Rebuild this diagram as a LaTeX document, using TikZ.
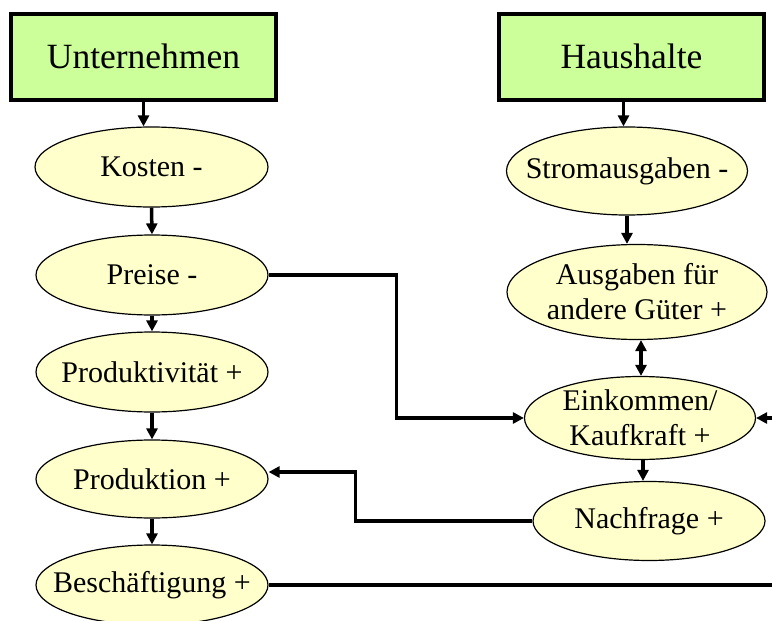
\documentclass[tikz,border=0pt]{standalone}
\usepackage{fontspec}
\setmainfont{Liberation Serif}
\usetikzlibrary{shapes.geometric,arrows.meta}

\definecolor{boxgreen}{HTML}{CCFF99}
\definecolor{ovalyellow}{HTML}{FFFFCC}

\begin{document}
\begin{tikzpicture}
      [x=1pt,y=-1pt,
      %%%%%%%%%%%%%%%%%%%%%%%%%%%%%%
      box/.style={rectangle,draw=black,line width=4pt,fill=boxgreen,
        minimum width=265pt,minimum height=86pt,inner sep=0pt,
        font=\fontsize{35.5}{40}\selectfont},
      oval/.style={ellipse,draw=black,line width=1.2pt,fill=ovalyellow,
        inner xsep=-40pt,inner ysep=-25pt,align=center,
        font=\fontsize{30}{35}\selectfont},
      arr/.style={line width=3.5pt,-{Triangle[length=11pt,width=11pt]}},
      dblarr/.style={line width=3.5pt,{Triangle[length=11pt,width=11pt]}-{Triangle[length=11pt,width=11pt]}},
      line/.style={line width=3.5pt},
      ]%%%%%%%%%%%%%%%%%%%%%%%%%%%%%%
      \clip (0,0) rectangle (772,621);
      \useasboundingbox (0,0) rectangle (772,621);

      % left column
      \node[box] (unt) at (143.5,56.5) {Unternehmen};
      \node[oval,minimum width=233pt,minimum height=80pt] (kosten) at (151.5,167) {Kosten -};
      \node[oval,minimum width=232pt,minimum height=80pt] (preise) at (152,275) {Preise -};
      \node[oval,minimum width=232pt,minimum height=80pt] (produktiv) at (152,372) {Produktivität +};
      \node[oval,minimum width=232pt,minimum height=78pt] (prod) at (152,479) {Produktion +};
      \node[oval,minimum width=232pt,minimum height=80pt] (besch) at (152,585) {Beschäftigung +};

      % right column
      \node[box] (haus) at (631.5,56.5) {Haushalte};
      \node[oval,minimum width=241pt,minimum height=88pt] (strom) at (627,171) {Stromausgaben -};
      \node[oval,minimum width=260pt,minimum height=95pt] (ausgaben) at (637,292) {Ausgaben für\\andere Güter +};
      \node[oval,minimum width=231pt,minimum height=83pt] (eink) at (640,418) {Einkommen/\\Kaufkraft +};
      \node[oval,minimum width=232pt,minimum height=79pt] (nachfrage) at (649,521) {Nachfrage +};

      \coordinate (outeink) at (790,418);
      \coordinate (outbesch) at (790,585);

      \draw[arr] (unt.south) -- (unt.south |- kosten.north);
      \draw[arr] (kosten.south) -- (preise.north);
      \draw[arr] (preise.south) -- (produktiv.north);
      \draw[arr] (produktiv.south) -- (prod.north);
      \draw[arr] (prod.south) -- (besch.north);

      \draw[arr] ([xshift=-8pt]haus.south) -- ([xshift=-8pt]haus.south |- strom.north);
      \draw[arr] (strom.south) -- (strom.south |- ausgaben.north);
      \draw[dblarr] ([xshift=4pt]ausgaben.south) -- ([xshift=4pt]ausgaben.south |- eink.north);
      \draw[arr] ([xshift=3pt]eink.south) -- ([xshift=3pt]eink.south |- nachfrage.north);

      \draw[arr] (preise.east) -- ++(128,0) |- (eink.west);
      \draw[arr] (nachfrage.west) -- ++(-177,0) |- ([yshift=7pt]prod.east);
      \draw[arr] (outeink) -- (eink.east);
      \draw[line] (besch.east) -- (outbesch);
    \end{tikzpicture}
\end{document}
